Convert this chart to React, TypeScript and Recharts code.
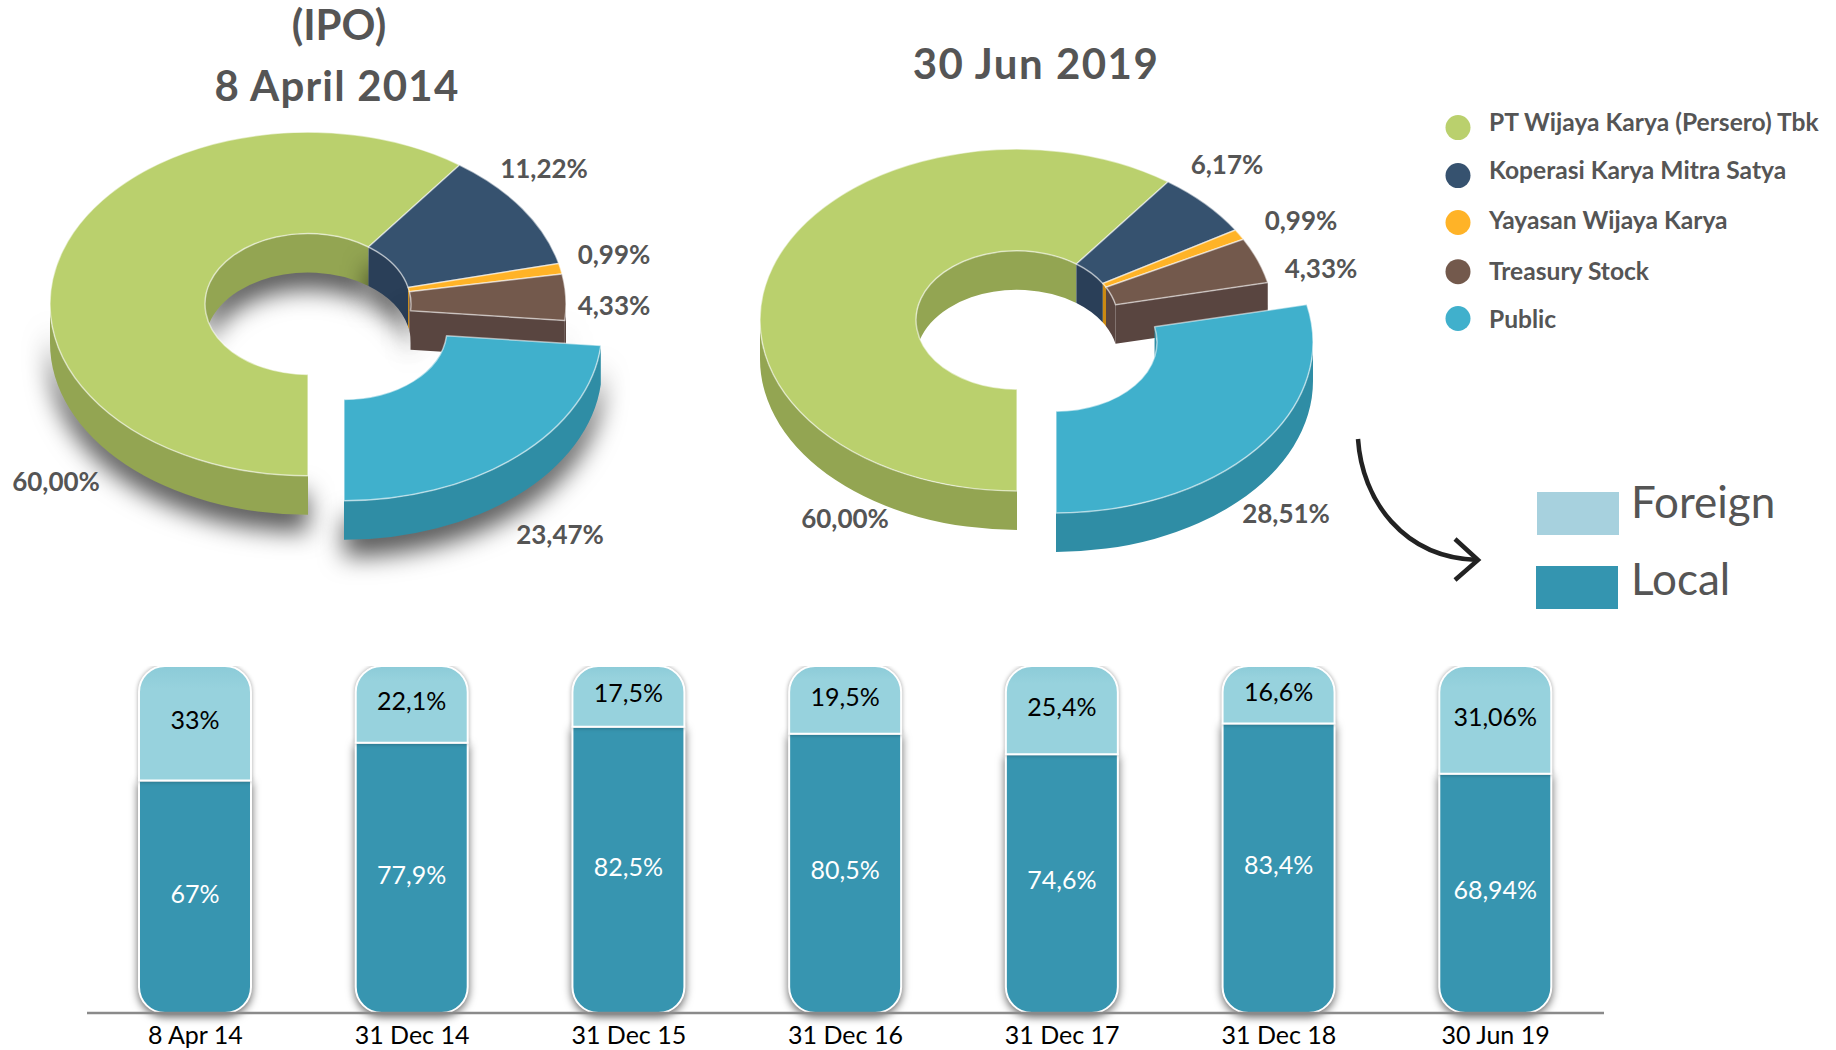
import React from "react"
import { Bar, BarChart, LabelList, Pie, PieChart, XAxis, YAxis } from "recharts"

// pie data
const holders = ["PT Wijaya Karya (Persero) Tbk", "Koperasi Karya Mitra Satya", "Yayasan Wijaya Karya", "Treasury Stock", "Public"]
const ipoShares = [60.0, 11.22, 0.99, 4.33, 23.47]
const jun2019Shares = [60.0, 6.17, 0.99, 4.33, 28.51]
const topColors = ["#bad06d", "#36526f", "#ffb327", "#73594c", "#40b0cc"]
const wallColors = ["#93a552", "#2a3f58", "#cc8a12", "#594540", "#2f8da5"]

// stacked bar data
const dates = ["8 Apr 14", "31 Dec 14", "31 Dec 15", "31 Dec 16", "31 Dec 17", "31 Dec 18", "30 Jun 19"]
const foreign = [33, 22.1, 17.5, 19.5, 25.4, 16.6, 31.06]
const local = [67, 77.9, 82.5, 80.5, 74.6, 83.4, 68.94]

const ipoLabelPos = [[56, 481], [544, 168], [614, 254], [614, 305], [560, 534]]
const junLabelPos = [[845, 518], [1227, 164], [1301, 220], [1321, 268], [1286, 513]]
const legendCircleY = [127.6, 175.6, 222.5, 271.7, 318.5]
const legendTextY = [131, 179, 229, 280, 328]

const FONT = "Lato, sans-serif"
const GREY = "#555555"

const fmt = (v: number) => String(v).replace(".", ",") + "%"
const fmt2 = (v: number) => v.toFixed(2).replace(".", ",") + "%"

const pieRows = (shares: number[]) => holders.map((name, i) => ({ name, value: shares[i], color: i }))
const barRows = dates.map((date, i) => ({ date, foreign: foreign[i], local: local[i] }))

type Cfg = { sy: number; isy: number; depth: number; dx: number; dy: number; shadow: boolean }

const rad = (a: number) => (a * Math.PI) / 180
const syOf = (cfg: Cfg, r: number) => (r < 150 ? cfg.isy : cfg.sy)

// point on the squashed circle
const pt = (p: any, cfg: Cfg, r: number, a: number, drop = 0) => {
  const off = p.index === 4 ? [cfg.dx, cfg.dy] : [0, 0]
  return [p.cx + off[0] + r * Math.cos(rad(a)), p.cy + off[1] - r * Math.sin(rad(a)) * syOf(cfg, r) + drop]
}

const arcTo = (p: any, cfg: Cfg, r: number, from: number, to: number, drop = 0) => {
  const [x, y] = pt(p, cfg, r, to, drop)
  const large = Math.abs(from - to) > 180 ? 1 : 0
  const sweep = from > to ? 1 : 0
  return `A${r} ${r * syOf(cfg, r)} 0 ${large} ${sweep} ${x} ${y}`
}

const band = (p: any, cfg: Cfg, r: number, from: number, to: number) => {
  const a = pt(p, cfg, r, from)
  const b = pt(p, cfg, r, to, cfg.depth)
  return `M${a[0]} ${a[1]}${arcTo(p, cfg, r, from, to)}L${b[0]} ${b[1]}${arcTo(p, cfg, r, to, from, cfg.depth)}Z`
}

const clip = (hi: number, lo: number, from: number, to: number) => {
  const a = Math.min(hi, from)
  const b = Math.max(lo, to)
  return a > b ? [a, b] : null
}

const wallShape = (cfg: Cfg) => (p: any) => {
  const hi = Math.max(p.startAngle, p.endAngle)
  const lo = Math.min(p.startAngle, p.endAngle)
  const fill = wallColors[p.payload.color]
  const outer = [clip(hi, lo, 360, 180), clip(hi, lo, 0, -180)].filter(Boolean) as number[][]
  const inner = clip(hi, lo, 180, 0)
  const shadow = cfg.shadow ? { filter: "drop-shadow(0px 17px 12px rgba(0,0,0,0.65))" } : undefined
  const a = pt(p, cfg, p.innerRadius, lo)
  const b = pt(p, cfg, p.outerRadius, lo)
  return (
    <g>
      {outer.map((o, i) => (
        <path key={i} d={band(p, cfg, p.outerRadius, o[0], o[1])} fill={fill} style={shadow} />
      ))}
      {inner && <path d={band(p, cfg, p.innerRadius, inner[0], inner[1])} fill={fill} style={shadow} />}
      {p.index === 3 && (
        <path
          d={`M${a[0]} ${a[1]}L${b[0]} ${b[1]}L${b[0]} ${b[1] + cfg.depth}L${a[0]} ${a[1] + cfg.depth}Z`}
          fill={fill}
        />
      )}
    </g>
  )
}

const faceShape = (cfg: Cfg) => (p: any) => {
  const hi = Math.max(p.startAngle, p.endAngle)
  const lo = Math.min(p.startAngle, p.endAngle)
  const o = pt(p, cfg, p.outerRadius, hi)
  const i = pt(p, cfg, p.innerRadius, lo)
  const d = `M${o[0]} ${o[1]}${arcTo(p, cfg, p.outerRadius, hi, lo)}L${i[0]} ${i[1]}${arcTo(p, cfg, p.innerRadius, lo, hi)}Z`
  return <path d={d} fill={topColors[p.payload.color]} stroke="#ffffff" strokeOpacity={0.55} strokeWidth={1.5} strokeLinejoin="round" />
}

const pieLabel = (pos: number[][]) => (p: any) => (
  <text
    key={p.index}
    x={pos[p.index][0]}
    y={pos[p.index][1]}
    textAnchor="middle"
    dominantBaseline="central"
    fill={GREY}
    fontFamily={FONT}
    fontWeight={700}
    fontSize={26}
  >
    {fmt2(p.value)}
  </text>
)

function Donut({ shares, cx, cy, outer, inner, cfg, pos }: any) {
  const rows = pieRows(shares)
  return [
    <Pie
      key="walls"
      data={rows}
      dataKey="value"
      cx={cx}
      cy={cy}
      outerRadius={outer}
      innerRadius={inner}
      startAngle={270}
      endAngle={-90}
      isAnimationActive={false}
      shape={wallShape(cfg)}
      stroke="none"
    />,
    <Pie
      key="faces"
      data={rows}
      dataKey="value"
      cx={cx}
      cy={cy}
      outerRadius={outer}
      innerRadius={inner}
      startAngle={270}
      endAngle={-90}
      isAnimationActive={false}
      shape={faceShape(cfg)}
      label={pieLabel(pos)}
      labelLine={false}
    />,
  ]
}

export default function App() {
  const ipoCfg = { sy: 0.666, isy: 0.684, depth: 39, dx: 36, dy: 25, shadow: true }
  const junCfg = { sy: 0.665, isy: 0.685, depth: 39, dx: 39, dy: 22, shadow: false }
  return (
    <div style={{ position: "absolute", left: 0, top: 0, width: 1836, height: 1050, background: "#fff", overflow: "hidden" }}>
      <div style={{ position: "absolute", left: 0, top: 0 }}>
        <PieChart width={1836} height={660} margin={{ top: 0, right: 0, bottom: 0, left: 0 }}>
          {Donut({ shares: ipoShares, cx: 308, cy: 304, outer: 258, inner: 103, cfg: ipoCfg, pos: ipoLabelPos })}
          {Donut({ shares: jun2019Shares, cx: 1017, cy: 320, outer: 257, inner: 101, cfg: junCfg, pos: junLabelPos })}
        </PieChart>
      </div>

      <svg width={1836} height={660} style={{ position: "absolute", left: 0, top: 0 }} fontFamily={FONT}>
        <g fill={GREY} fontWeight={700} fontSize={42} textAnchor="middle">
          <text x={339} y={40}>(IPO)</text>
          <text x={337} y={101} letterSpacing={1.2}>8 April 2014</text>
          <text x={1036} y={79} letterSpacing={1.5}>30 Jun 2019</text>
        </g>
        {holders.map((h, i) => (
          <g key={h}>
            <circle cx={1458} cy={legendCircleY[i]} r={12.5} fill={topColors[i]} />
            <text x={1489} y={legendTextY[i]} fill={GREY} fontSize={24.6} fontWeight={700}>{h}</text>
          </g>
        ))}
        <path d="M1358 439C1362 500 1403 558 1478 560" fill="none" stroke="#222" strokeWidth={4.5} />
        <path d="M1455 539L1478 560L1455 580" fill="none" stroke="#222" strokeWidth={4.5} />
        <rect x={1537} y={492} width={82} height={43} fill="#a7d1de" />
        <rect x={1536} y={566} width={82} height={43} fill="#3495b0" />
        <text x={1631} y={518} fontSize={44} fill={GREY}>Foreign</text>
        <text x={1631} y={595} fontSize={44} fill={GREY}>Local</text>
      </svg>

      <div style={{ position: "absolute", left: 87, top: 666 }}>
        <BarChart width={1517} height={384} data={barRows} margin={{ top: 0, right: 0, bottom: 0, left: 0 }} barSize={112}>
          <defs>
            <linearGradient id="foreignFill" x1="0" y1="0" x2="0" y2="1">
              <stop offset="0" stopColor="#8ccbd8" />
              <stop offset="0.2" stopColor="#97d2dd" />
            </linearGradient>
          </defs>
          <XAxis
            dataKey="date"
            height={37}
            interval={0}
            tickLine={false}
            axisLine={{ stroke: "#8a8a8a", strokeWidth: 2.5 }}
            tick={{ fill: "#000", fontSize: 25, fontFamily: FONT }}
            tickMargin={7}
          />
          <YAxis hide domain={[0, 100]} />
          <Bar
            dataKey="local"
            stackId="a"
            fill="#3795b0"
            stroke="#fff"
            strokeWidth={2}
            radius={[0, 0, 26, 26]}
            isAnimationActive={false}
            style={{ filter: "drop-shadow(0px 3px 4px rgba(0,0,0,0.6))" }}
          >
            <LabelList dataKey="local" position="center" fill="#fff" fontSize={25} fontFamily={FONT} dy={-3} formatter={fmt} />
          </Bar>
          <Bar
            dataKey="foreign"
            stackId="a"
            fill="url(#foreignFill)"
            stroke="#fff"
            strokeWidth={2}
            radius={[26, 26, 0, 0]}
            isAnimationActive={false}
            style={{ filter: "drop-shadow(0px 0px 2px rgba(0,0,0,0.35))" }}
          >
            <LabelList dataKey="foreign" position="center" fill="#000" fontSize={25} fontFamily={FONT} dy={-3} formatter={fmt} />
          </Bar>
        </BarChart>
      </div>
    </div>
  )
}
